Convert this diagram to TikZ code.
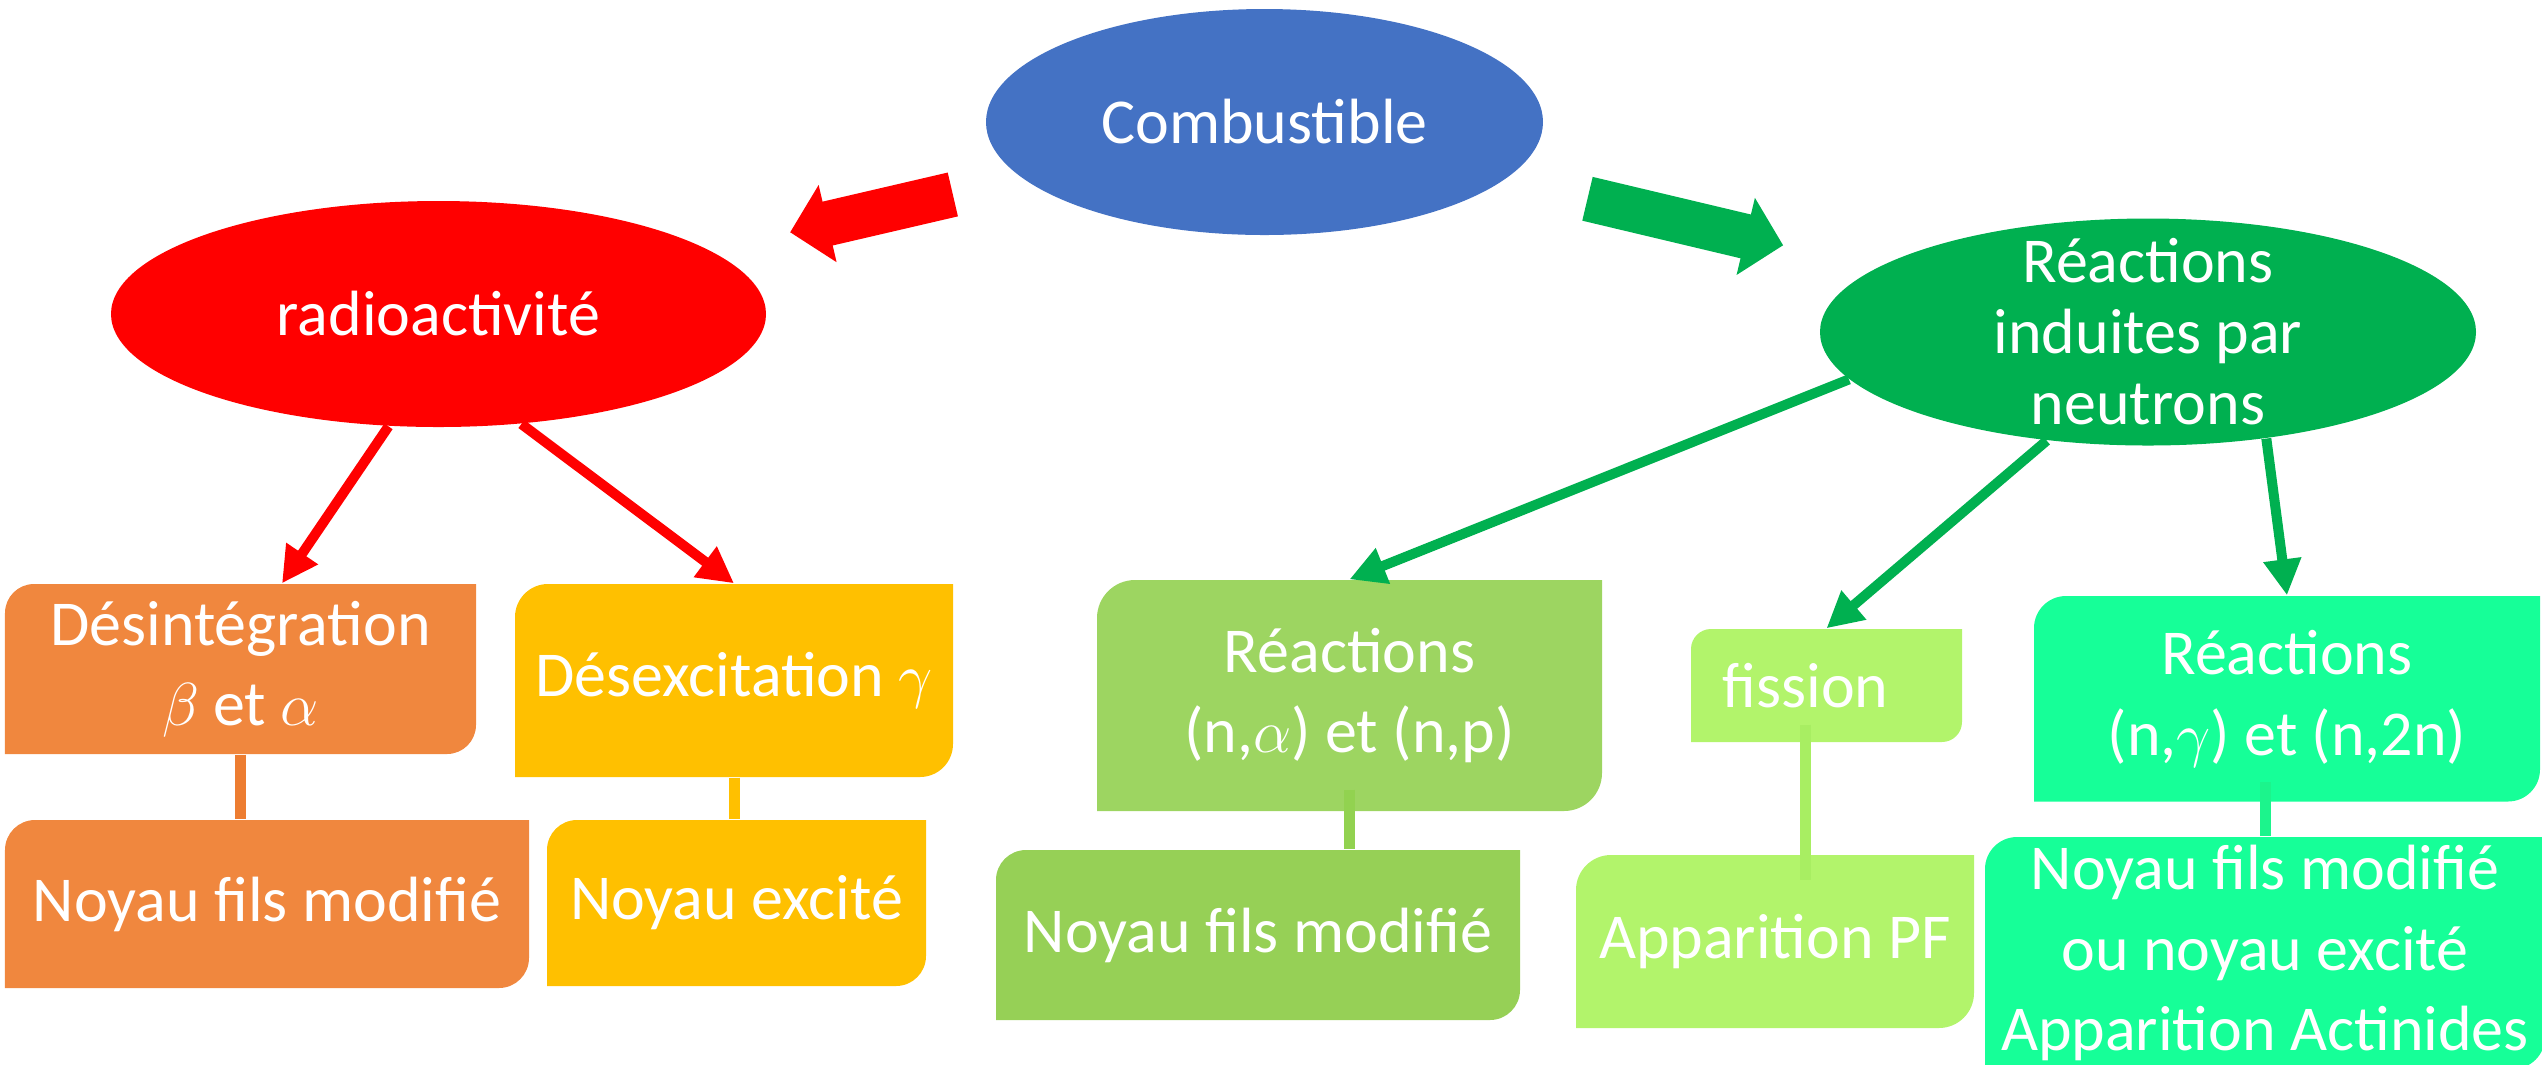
\documentclass[tikz,border=0pt]{standalone}
\usepackage{fontspec}
\setmainfont{Carlito}
\usetikzlibrary{shapes.geometric, arrows.meta}

\definecolor{fuelblue}{HTML}{4472C4}
\definecolor{radred}{HTML}{FF0000}
\definecolor{neutgreen}{HTML}{00B050}
\definecolor{decayorange}{RGB}{240,135,62}
\definecolor{orangeline}{HTML}{ED7D31}
\definecolor{deexcyellow}{HTML}{FFC000}
\definecolor{nalphagreen}{RGB}{157,213,97}
\definecolor{nalphadark}{RGB}{150,208,86}
\definecolor{greenline}{RGB}{146,210,80}
\definecolor{fissgreen}{RGB}{178,244,107}
\definecolor{fissline}{RGB}{168,238,98}
\definecolor{ngteal}{RGB}{22,255,152}
\definecolor{tealline}{RGB}{28,244,140}

\newcommand\ovalfont{\fontsize{18.2pt}{20.2pt}\selectfont}
\newcommand\cardfont{\fontsize{18.2pt}{22.8pt}\selectfont}

\begin{document}
\begin{tikzpicture}[
    oval/.style={ellipse, inner sep=-3cm, text=white, align=center, font=\ovalfont},
    card/.style 2 args={rectangle, inner sep=0pt, text=white, align=center, font=\cardfont,
        path picture={
            \fill[#1] (path picture bounding box.south west)
                -- ([yshift=-#2]path picture bounding box.north west)
                arc[start angle=180, end angle=90, radius=#2]
                -- (path picture bounding box.north east)
                -- ([yshift=#2]path picture bounding box.south east)
                arc[start angle=0, end angle=-90, radius=#2]
                -- cycle;
        }},
    push/.style={line width=.45cm, #1, -{Triangle[length=.385cm, width=.77cm]}},
    feed/.style={line width=.1cm, #1, -{Triangle[length=.36cm, width=.36cm]}},
    stem/.style={line width=.11cm, #1},
  ]
    \useasboundingbox (0,0) rectangle (25.42,-10.64);

    \node[oval, fill=fuelblue, minimum width=5.57cm, minimum height=2.26cm] (fuel) at (12.645, -1.22) {Combustible};
    \node[oval, fill=radred, minimum width=6.55cm, minimum height=2.26cm] (radio) at (4.385, -3.14) {radioactivité};
    \node[oval, fill=neutgreen, minimum width=6.56cm, minimum height=2.27cm] (induced) at (21.48, -3.32) {Réactions\\induites par\\neutrons};

    \node[card={decayorange}{.29cm}, minimum width=4.71cm, minimum height=1.70cm] (decay) at (2.405, -6.69) {Désintégration\\$\beta$ et $\alpha$};
    \node[card={decayorange}{.3cm}, minimum width=5.24cm, minimum height=1.68cm] (decayout) at (2.67, -9.04) {Noyau fils modifié};
    \node[card={deexcyellow}{.33cm}, minimum width=4.38cm, minimum height=1.93cm] (deexc) at (7.34, -6.805) {Désexcitation $\gamma$};
    \node[card={deexcyellow}{.3cm}, minimum width=3.79cm, minimum height=1.66cm] (excited) at (7.365, -9.03) {Noyau excité};

    \node[card={nalphagreen}{.38cm}, minimum width=5.05cm, minimum height=2.31cm] (nalpha) at (13.495, -6.955) {Réactions\\(n,$\alpha$) et (n,p)};
    \node[card={nalphadark}{.3cm}, minimum width=5.24cm, minimum height=1.70cm] (nalphaout) at (12.58, -9.35) {Noyau fils modifié};
    \node[card={fissgreen}{.2cm}, minimum width=2.71cm, minimum height=1.13cm] (fission) at (18.265, -6.855) {fission\hspace*{.42cm}};
    \node[card={fissgreen}{.35cm}, minimum width=3.98cm, minimum height=1.73cm] (pf) at (17.75, -9.415) {Apparition PF};
    \node[card={ngteal}{.32cm}, minimum width=5.06cm, minimum height=2.055cm] (ngamma) at (22.87, -6.9875) {Réactions\\(n,$\gamma$) et (n,2n)};
    \node[card={ngteal}{.32cm}, minimum width=5.6cm, minimum height=2.32cm] (ngammaout) at (22.65, -9.53) {Noyau fils modifié\\ou noyau excité\\Apparition Actinides};

    \draw[push=radred, shorten <=3.2cm, shorten >=3.61cm] (fuel.center) to (radio.center);
    \draw[push=neutgreen, shorten <=3.32cm, shorten >=3.75cm] (fuel.center) to (induced.center);

    \draw[feed=radred] (radio.246) to ([xshift=.415cm]decay.north);
    \draw[feed=radred] (radio.307) to (deexc.north);
    \draw[feed=neutgreen] (induced.189) to (nalpha.north);
    \draw[feed=neutgreen] (induced.227) to (fission.north);
    \draw[feed=neutgreen] (induced.318) to (ngamma.north);

    \draw[stem=orangeline] (decay.south) to (decay.south |- decayout.north);
    \draw[stem=deexcyellow] (deexc.south) to (deexc.south |- excited.north);
    \draw[stem=greenline] ([yshift=.22cm]nalpha.south) to (nalpha.south |- nalphaout.north);
    \draw[stem=fissline] ([xshift=-.21cm, yshift=.18cm]fission.south) to ([xshift=-.21cm, yshift=-.26cm]fission.south |- pf.north);
    \draw[stem=tealline] ([yshift=.2cm]ngammaout.north |- ngamma.south) to (ngammaout.north);
\end{tikzpicture}
\end{document}
